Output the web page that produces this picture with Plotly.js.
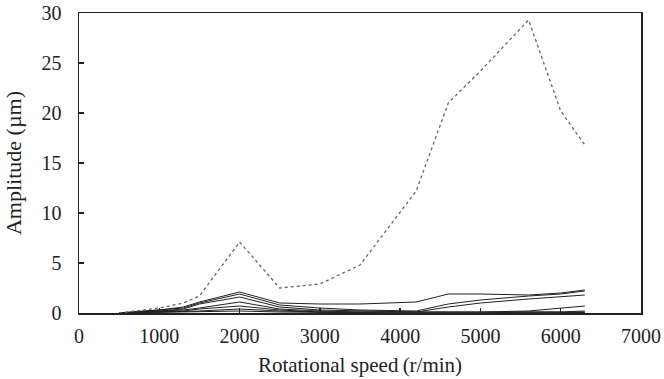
<!DOCTYPE html>
<html>
<head>
<meta charset="utf-8">
<script src="https://cdn.plot.ly/plotly-3.0.1.min.js"></script>
<style>html,body{margin:0;padding:0;background:#fff;}#chart{width:664px;height:379px;}</style>
</head>
<body>
<div id="chart"></div>
<script>
const speed = [500, 1000, 1300, 1500, 2000, 2500, 3000, 3500, 4200, 4600, 5000, 5600, 6000, 6300];
const dottedSeries = [0, 0.5, 1.0, 1.7, 7.1, 2.5, 2.9, 4.8, 12.2, 21.0, 24.2, 29.3, 20.2, 16.8];
const solid1 = [0, 0.3, 0.6, 1.1, 2.1, 1.0, 0.9, 0.9, 1.1, 1.9, 1.9, 1.8, 2.0, 2.3];
const solid2 = [0, 0.3, 0.5, 1.0, 1.9, 0.8, 0.5, 0.3, 0.2, 0.9, 1.3, 1.7, 1.9, 2.2];
const solid3 = [0, 0.2, 0.4, 0.9, 1.6, 0.6, 0.3, 0.2, 0.1, 0.6, 1.0, 1.4, 1.6, 1.8];
const solid4 = [0, 0.2, 0.3, 0.5, 1.1, 0.4, 0.2, 0.1, 0.1, 0.1, 0.1, 0.2, 0.5, 0.7];
const solid5 = [0, 0.1, 0.2, 0.4, 0.7, 0.3, 0.1, 0.1, 0.1, 0.1, 0.1, 0.1, 0.1, 0.2];
const solid6 = [0, 0.1, 0.1, 0.2, 0.4, 0.2, 0.1, 0.0, 0.0, 0.0, 0.0, 0.1, 0.1, 0.1];
const solid7 = [0, 0.05, 0.1, 0.1, 0.2, 0.1, 0.05, 0, 0, 0, 0, 0, 0, 0.05];
const solidSeries = [solid1, solid2, solid3, solid4, solid5, solid6, solid7];

const traces = solidSeries.map(s => ({
  x: speed, y: s, type: 'scatter', mode: 'lines',
  line: {color: '#222', width: 1}, showlegend: false, hoverinfo: 'skip'
}));
traces.push({
  x: speed, y: dottedSeries, type: 'scatter', mode: 'lines',
  line: {color: '#666', width: 1.3, dash: 'dot'}, showlegend: false, hoverinfo: 'skip'
});

const fontFam = '"Liberation Serif", "Times New Roman", serif';
const layout = {
  width: 664, height: 379,
  margin: {l: 79, r: 23, t: 13, b: 66},
  paper_bgcolor: '#fff', plot_bgcolor: '#fff',
  font: {family: fontFam, size: 20, color: '#222'},
  xaxis: {
    range: [0, 7000], tickvals: [0,1000,2000,3000,4000,5000,6000,7000],
    ticks: 'inside', ticklen: 5, tickwidth: 1.5, tickcolor: '#222',
    showline: true, mirror: true, linecolor: '#222', linewidth: 1.5,
    showgrid: false, zeroline: false, ticklabelstandoff: 4,
    tickfont: {family: fontFam, size: 20, color: '#222'},
    title: {text: 'Rotational speed\u2009(r/min)', font: {family: fontFam, size: 21, color: '#222'}, standoff: 12}
  },
  yaxis: {
    range: [0, 30], tickvals: [0,5,10,15,20,25,30],
    ticks: 'inside', ticklen: 5, tickwidth: 1.5, tickcolor: '#222',
    showline: true, mirror: true, linecolor: '#222', linewidth: 1.5,
    showgrid: false, zeroline: false, ticklabelstandoff: 12,
    tickfont: {family: fontFam, size: 20, color: '#222'},
    title: {text: 'Amplitude (µm)', font: {family: fontFam, size: 22, color: '#222'}, standoff: 14}
  }
};
Plotly.newPlot('chart', traces, layout, {displayModeBar: false, staticPlot: true});
</script>
</body>
</html>
